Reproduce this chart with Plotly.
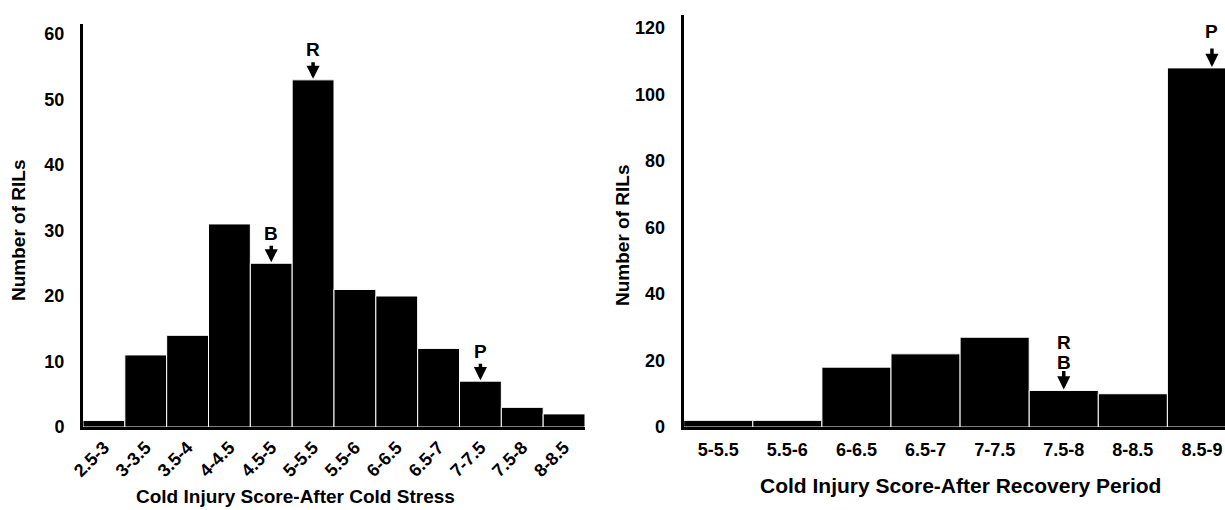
import plotly.graph_objects as go

# Left panel: after cold stress
cats_stress = ["2.5-3", "3-3.5", "3.5-4", "4-4.5", "4.5-5", "5-5.5",
               "5.5-6", "6-6.5", "6.5-7", "7-7.5", "7.5-8", "8-8.5"]
counts_stress = [1, 11, 14, 31, 25, 53, 21, 20, 12, 7, 3, 2]

# Right panel: after recovery period
cats_recovery = ["5-5.5", "5.5-6", "6-6.5", "6.5-7", "7-7.5", "7.5-8", "8-8.5", "8.5-9"]
counts_recovery = [2, 2, 18, 22, 27, 11, 10, 108]

# Parent markers: (category, labels stacked top to bottom)
marks_stress = [("4.5-5", ["B"]), ("5-5.5", ["R"]), ("7-7.5", ["P"])]
marks_recovery = [("7.5-8", ["R", "B"]), ("8.5-9", ["P"])]

W, H = 1225, 510
FONT = "Liberation Sans, Arial, sans-serif"

fig = go.Figure()
fig.add_trace(go.Bar(x=cats_stress, y=counts_stress, xaxis="x", yaxis="y",
                     marker=dict(color="black", line=dict(color="white", width=1)),
                     showlegend=False, hoverinfo="skip"))
fig.add_trace(go.Bar(x=cats_recovery, y=counts_recovery, xaxis="x2", yaxis="y2",
                     marker=dict(color="black", line=dict(color="white", width=1)),
                     showlegend=False, hoverinfo="skip"))

y0 = 427
tickfont = dict(family=FONT, size=18, color="black", weight="bold")
axis_common = dict(showline=True, linecolor="black", linewidth=3, showgrid=False,
                   zeroline=False, ticks="", automargin=False, tickfont=tickfont)

fig.update_layout(
    template="none",
    width=W, height=H,
    margin=dict(l=0, r=0, t=0, b=0, pad=0),
    paper_bgcolor="white", plot_bgcolor="white",
    bargap=0,
    font=dict(family=FONT, color="black"),
    xaxis=dict(domain=[83 / W, 585 / W], anchor="y", type="category",
               range=[-0.5, 11.5], tickangle=-45, ticklabelstandoff=0,
               **axis_common),
    yaxis=dict(domain=[1 - y0 / H, 1 - 24 / H], anchor="x",
               range=[0, (y0 - 24) / 6.55], tickvals=[0, 10, 20, 30, 40, 50, 60],
               ticklabelstandoff=12, **axis_common),
    xaxis2=dict(domain=[683.7 / W, 1.0], anchor="y2", type="category",
                range=[-0.5, -0.5 + (W - 683.7) / 69.1], ticklabelstandoff=4,
                **axis_common),
    yaxis2=dict(domain=[1 - y0 / H, 1 - 15 / H], anchor="x2",
                range=[0, (y0 - 15) / 3.325], tickvals=[0, 20, 40, 60, 80, 100, 120],
                ticklabelstandoff=12, **axis_common),
)

ann = []
ann.append(dict(text="<b>Cold Injury Score-After Cold Stress</b>", x=295 / W, y=1 - 496 / H,
                xref="paper", yref="paper", xanchor="center", yanchor="middle",
                showarrow=False, font=dict(family=FONT, size=19, color="black")))
ann.append(dict(text="<b>Cold Injury Score-After Recovery Period</b>", x=960 / W, y=1 - 485 / H,
                xref="paper", yref="paper", xanchor="center", yanchor="middle",
                showarrow=False, font=dict(family=FONT, size=21, color="black")))
ann.append(dict(text="<b>Number of RILs</b>", x=19 / W, y=1 - 231 / H, textangle=-90,
                xref="paper", yref="paper", xanchor="center", yanchor="middle",
                showarrow=False, font=dict(family=FONT, size=19, color="black")))
ann.append(dict(text="<b>Number of RILs</b>", x=622 / W, y=1 - 236 / H, textangle=-90,
                xref="paper", yref="paper", xanchor="center", yanchor="middle",
                showarrow=False, font=dict(family=FONT, size=19, color="black")))

mark_font = dict(family=FONT, size=19, color="black")


def add_mark(xref, yref, cat, v, labels, arrow_len, first_shift, xoff=0):
    ann.append(dict(x=cat, y=v, xref=xref, yref=yref, text="", showarrow=True,
                    ax=0, ay=-arrow_len, arrowhead=2, arrowsize=0.75, arrowwidth=3.5,
                    arrowcolor="black", standoff=1, xshift=xoff))
    for i, lab in enumerate(reversed(labels)):
        ann.append(dict(x=cat, y=v, xref=xref, yref=yref, text="<b>" + lab + "</b>",
                        showarrow=False, yshift=first_shift + 20 * i, xshift=xoff,
                        borderpad=0, font=mark_font))


for cat, labs in marks_stress:
    add_mark("x", "y", cat, counts_stress[cats_stress.index(cat)], labs, 19, 30)

for cat, labs in marks_recovery:
    xoff = 10 if cat == "8.5-9" else 0
    first = 36 if cat == "8.5-9" else 28
    add_mark("x2", "y2", cat, counts_recovery[cats_recovery.index(cat)], labs, 21, first, xoff)

fig.update_layout(annotations=ann)
fig.write_html("out.html", config={"displayModeBar": False, "staticPlot": True},
               post_script="document.body.style.margin='0';document.body.style.overflow='hidden';")
